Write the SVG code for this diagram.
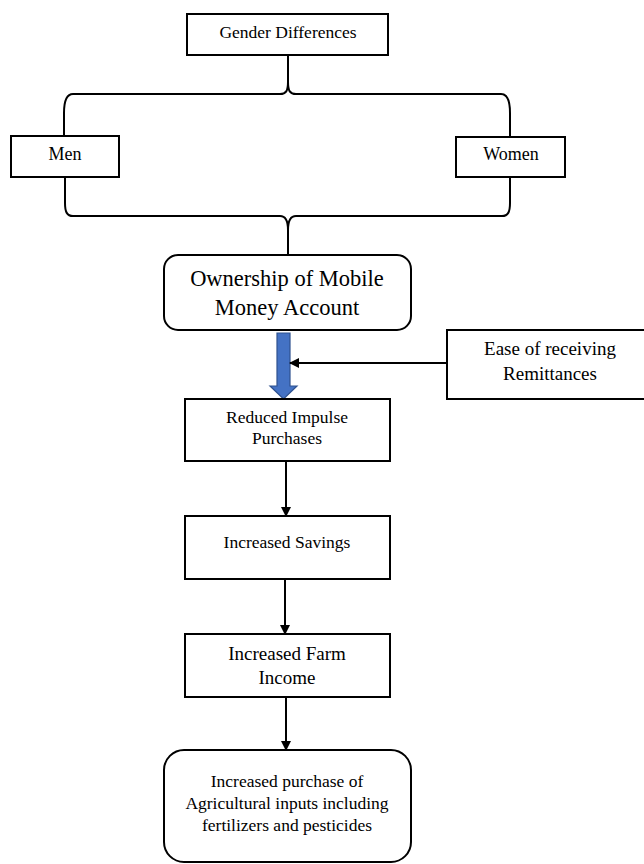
<svg xmlns="http://www.w3.org/2000/svg" width="644" height="864" viewBox="0 0 644 864">
<style>
  .box { fill: #ffffff; stroke: #000000; stroke-width: 2; }
  .t { font-family: "Liberation Serif", "Times New Roman", serif; fill: #000000; text-anchor: middle; }
  .line { fill: none; stroke: #000000; stroke-width: 2; }
</style>
<defs>
  <marker id="ah" markerWidth="10" markerHeight="10" refX="9" refY="5" orient="auto" markerUnits="userSpaceOnUse">
    <path d="M0,0 L10,5 L0,10 Z" fill="#000000"/>
  </marker>
</defs>
<rect width="644" height="864" fill="#ffffff"/>

<g id="connectors">
  <!-- top brace -->
  <path class="line" d="M288,55 L288,82 C288,91 286,94 280,94 L73,94 C67,94 64,100 64,113 L64,136"/>
  <path class="line" d="M288,82 C288,91 290,94 296,94 L501,94 C507,94 510,100 510,113 L510,137"/>
  <!-- bottom brace -->
  <path class="line" d="M65,177 L65,203 C65,212 67,216 73,216 L280,216 C286,216 288,221 288,230 L288,255"/>
  <path class="line" d="M510,177 L510,203 C510,212 508,216 502,216 L296,216 C290,216 288,221 288,230"/>
  <!-- blue block arrow -->
  <path d="M277,333 L290,333 L290,386 L297,386 L283.5,399 L270,386 L277,386 Z" fill="#4472C4" stroke="#2F528F" stroke-width="1.2"/>
  <!-- remittances arrow -->
  <line class="line" x1="447" y1="363" x2="290" y2="363" marker-end="url(#ah)"/>
  <!-- down arrows -->
  <line class="line" x1="286" y1="462" x2="286" y2="516" marker-end="url(#ah)"/>
  <line class="line" x1="285" y1="579" x2="285" y2="634" marker-end="url(#ah)"/>
  <line class="line" x1="286" y1="697" x2="286" y2="750" marker-end="url(#ah)"/>
</g>

<g id="gender">
  <rect class="box" x="187" y="14" width="201" height="41"/>
  <text class="t" x="288" y="38" font-size="17.5">Gender Differences</text>
</g>
<g id="men">
  <rect class="box" x="11" y="136" width="108" height="41"/>
  <text class="t" x="65" y="160" font-size="18">Men</text>
</g>
<g id="women">
  <rect class="box" x="456" y="137" width="109" height="40"/>
  <text class="t" x="511" y="160" font-size="18">Women</text>
</g>
<g id="ownership">
  <rect class="box" x="164" y="255" width="247" height="75" rx="14"/>
  <text class="t" x="287" y="286" font-size="22.5">Ownership of Mobile</text>
  <text class="t" x="287" y="315" font-size="22.5">Money Account</text>
</g>
<g id="remittances">
  <rect class="box" x="447" y="330" width="205" height="69"/>
  <text class="t" x="550" y="355" font-size="19">Ease of receiving</text>
  <text class="t" x="550" y="380" font-size="19">Remittances</text>
</g>
<g id="impulse">
  <rect class="box" x="185" y="399" width="205" height="62"/>
  <text class="t" x="287" y="423" font-size="17.5">Reduced Impulse</text>
  <text class="t" x="287" y="444" font-size="17.5">Purchases</text>
</g>
<g id="savings">
  <rect class="box" x="185" y="516" width="205" height="63"/>
  <text class="t" x="287" y="548" font-size="17.5">Increased Savings</text>
</g>
<g id="farm">
  <rect class="box" x="185" y="634" width="205" height="63"/>
  <text class="t" x="287" y="660" font-size="19">Increased Farm</text>
  <text class="t" x="287" y="684" font-size="19">Income</text>
</g>
<g id="inputs">
  <rect class="box" x="164" y="750" width="247" height="112" rx="20"/>
  <text class="t" x="287" y="787" font-size="17.5">Increased purchase of</text>
  <text class="t" x="287" y="809" font-size="17.5">Agricultural inputs including</text>
  <text class="t" x="287" y="831" font-size="17.5">fertilizers and pesticides</text>
</g>
</svg>
